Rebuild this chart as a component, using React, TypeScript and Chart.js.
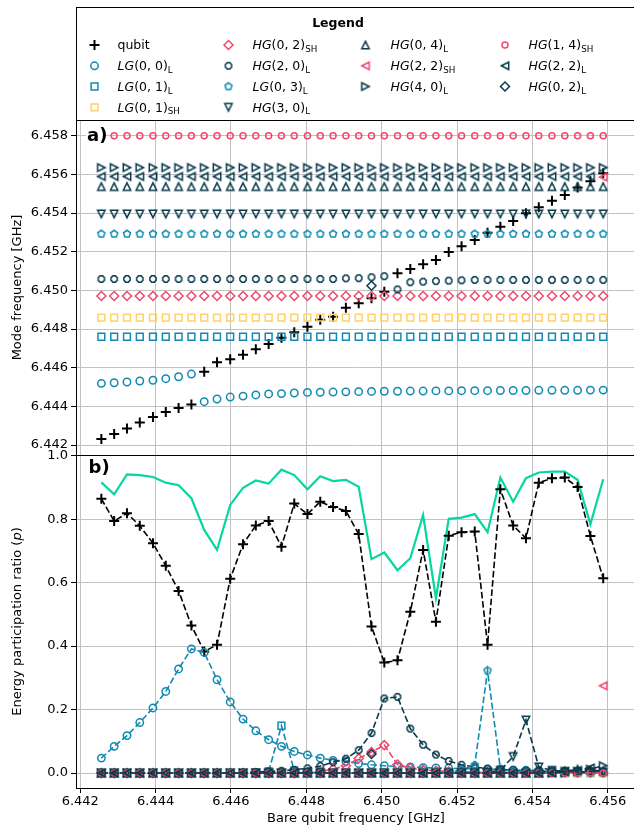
import React, { useEffect, useRef } from 'react';
import { Chart, registerables } from 'chart.js';
import { drawPoint } from 'chart.js/helpers';

Chart.register(...registerables);

// ---------------- data ----------------
const X_GHZ = [
  6.44256, 6.4429, 6.44324, 6.44358, 6.44393, 6.44427, 6.44461, 6.44495, 6.44529, 6.44563,
  6.44598, 6.44632, 6.44666, 6.447, 6.44734, 6.44768, 6.44803, 6.44837, 6.44871, 6.44905,
  6.44939, 6.44973, 6.45007, 6.45042, 6.45076, 6.4511, 6.45144, 6.45178, 6.45212, 6.45247,
  6.45281, 6.45315, 6.45349, 6.45383, 6.45417, 6.45452, 6.45486, 6.4552, 6.45554, 6.45588,
];

// panel a: mode frequencies [GHz]
const FREQ_QUBIT = [
  6.44231, 6.44257, 6.44286, 6.44316, 6.44345, 6.44371, 6.44391, 6.44409, 6.44579, 6.44628,
  6.44643, 6.44667, 6.44695, 6.44722, 6.44755, 6.44783, 6.44812, 6.44848, 6.44864, 6.4491,
  6.44933, 6.44959, 6.44993, 6.45088, 6.4511, 6.45135, 6.45157, 6.45198, 6.45228, 6.4526,
  6.45298, 6.45329, 6.45359, 6.45399, 6.4543, 6.45464, 6.45493, 6.45532, 6.45564, 6.45606,
];
const FREQ_LG00_L = [
  6.44519, 6.44522, 6.44526, 6.44531, 6.44535, 6.44543, 6.44553, 6.44567, 6.44424, 6.44438,
  6.44448, 6.44453, 6.44459, 6.44464, 6.44466, 6.44469, 6.44472, 6.44473, 6.44474, 6.44475,
  6.44476, 6.44477, 6.44478, 6.44478, 6.44479, 6.44479, 6.4448, 6.4448, 6.44481, 6.44481,
  6.44481, 6.44482, 6.44482, 6.44482, 6.44483, 6.44483, 6.44483, 6.44483, 6.44484, 6.44484,
];
const FREQ_LG01_L = [
  6.4476, 6.4476, 6.4476, 6.4476, 6.4476, 6.4476, 6.4476, 6.4476, 6.4476, 6.4476,
  6.4476, 6.4476, 6.4476, 6.4476, 6.4476, 6.4476, 6.4476, 6.4476, 6.4476, 6.4476,
  6.4476, 6.4476, 6.4476, 6.4476, 6.4476, 6.4476, 6.4476, 6.4476, 6.4476, 6.4476,
  6.4476, 6.4476, 6.4476, 6.4476, 6.4476, 6.4476, 6.4476, 6.4476, 6.4476, 6.4476,
];
const FREQ_LG01_SH = [
  6.44859, 6.44859, 6.44859, 6.44859, 6.44859, 6.44859, 6.44859, 6.44859, 6.44859, 6.44859,
  6.44859, 6.44859, 6.44859, 6.44859, 6.44859, 6.44859, 6.44859, 6.44859, 6.44859, 6.44859,
  6.44859, 6.44859, 6.44859, 6.44859, 6.44859, 6.44859, 6.44859, 6.44859, 6.44859, 6.44859,
  6.44859, 6.44859, 6.44859, 6.44859, 6.44859, 6.44859, 6.44859, 6.44859, 6.44859, 6.44859,
];
const FREQ_HG02_SH = [
  6.44971, 6.44971, 6.44971, 6.44971, 6.44971, 6.44971, 6.44971, 6.44971, 6.44971, 6.44971,
  6.44971, 6.44971, 6.44971, 6.44971, 6.44971, 6.44971, 6.44971, 6.44971, 6.44971, 6.44971,
  6.44971, 6.44971, 6.44971, 6.44971, 6.44971, 6.44971, 6.44971, 6.44971, 6.44971, 6.44971,
  6.44971, 6.44971, 6.44971, 6.44971, 6.44971, 6.44971, 6.44971, 6.44971, 6.44971, 6.44971,
];
const FREQ_HG20_L = [
  6.45059, 6.45059, 6.45059, 6.45059, 6.45059, 6.45059, 6.45059, 6.45059, 6.45059, 6.45059,
  6.45059, 6.45059, 6.45059, 6.45059, 6.45059, 6.45059, 6.45059, 6.45059, 6.45059, 6.45062,
  6.45063, 6.45068, 6.45073, 6.45005, 6.45042, 6.45045, 6.45048, 6.4505, 6.45052, 6.45054,
  6.45054, 6.45054, 6.45054, 6.45054, 6.45054, 6.45054, 6.45054, 6.45054, 6.45054, 6.45054,
];
const FREQ_LG03_L = [
  6.45292, 6.45292, 6.45292, 6.45292, 6.45292, 6.45292, 6.45292, 6.45292, 6.45292, 6.45292,
  6.45292, 6.45292, 6.45292, 6.45292, 6.45292, 6.45292, 6.45292, 6.45292, 6.45292, 6.45292,
  6.45292, 6.45292, 6.45292, 6.45292, 6.45292, 6.45292, 6.45292, 6.45292, 6.45292, 6.45292,
  6.45292, 6.45292, 6.45292, 6.45292, 6.45292, 6.45292, 6.45292, 6.45292, 6.45292, 6.45292,
];
const FREQ_HG30_L = [
  6.45395, 6.45395, 6.45395, 6.45395, 6.45395, 6.45395, 6.45395, 6.45395, 6.45395, 6.45395,
  6.45395, 6.45395, 6.45395, 6.45395, 6.45395, 6.45395, 6.45395, 6.45395, 6.45395, 6.45395,
  6.45395, 6.45395, 6.45395, 6.45395, 6.45395, 6.45395, 6.45395, 6.45395, 6.45395, 6.45395,
  6.45395, 6.45395, 6.45395, 6.45395, 6.45395, 6.45395, 6.45395, 6.45395, 6.45395, 6.45395,
];
const FREQ_HG04_L = [
  6.45537, 6.45537, 6.45537, 6.45537, 6.45537, 6.45537, 6.45537, 6.45537, 6.45537, 6.45537,
  6.45537, 6.45537, 6.45537, 6.45537, 6.45537, 6.45537, 6.45537, 6.45537, 6.45537, 6.45537,
  6.45537, 6.45537, 6.45537, 6.45537, 6.45537, 6.45537, 6.45537, 6.45537, 6.45537, 6.45537,
  6.45537, 6.45537, 6.45537, 6.45537, 6.45537, 6.45537, 6.45537, 6.45537, 6.45537, 6.45537,
];
const FREQ_HG22_SH = [
  null, null, null, null, null, null, null, null, null, null,
  null, null, null, null, null, null, null, null, null, null,
  null, null, null, null, null, null, null, null, null, null,
  null, null, null, null, null, null, null, null, null, 6.45586,
];
const FREQ_HG40_L = [
  6.45635, 6.45635, 6.45635, 6.45635, 6.45635, 6.45635, 6.45635, 6.45635, 6.45635, 6.45635,
  6.45635, 6.45635, 6.45635, 6.45635, 6.45635, 6.45635, 6.45635, 6.45635, 6.45635, 6.45635,
  6.45635, 6.45635, 6.45635, 6.45635, 6.45635, 6.45635, 6.45635, 6.45635, 6.45635, 6.45635,
  6.45635, 6.45635, 6.45635, 6.45635, 6.45635, 6.45635, 6.45635, 6.45635, 6.45635, 6.45635,
];
const FREQ_HG14_SH = [
  6.458, 6.458, 6.458, 6.458, 6.458, 6.458, 6.458, 6.458, 6.458, 6.458,
  6.458, 6.458, 6.458, 6.458, 6.458, 6.458, 6.458, 6.458, 6.458, 6.458,
  6.458, 6.458, 6.458, 6.458, 6.458, 6.458, 6.458, 6.458, 6.458, 6.458,
  6.458, 6.458, 6.458, 6.458, 6.458, 6.458, 6.458, 6.458, 6.458, 6.458,
];
const FREQ_HG22_L = [
  6.45589, 6.45589, 6.45589, 6.45589, 6.45589, 6.45589, 6.45589, 6.45589, 6.45589, 6.45589,
  6.45589, 6.45589, 6.45589, 6.45589, 6.45589, 6.45589, 6.45589, 6.45589, 6.45589, 6.45589,
  6.45589, 6.45589, 6.45589, 6.45589, 6.45589, 6.45589, 6.45589, 6.45589, 6.45589, 6.45589,
  6.45589, 6.45589, 6.45589, 6.45589, 6.45589, 6.45589, 6.45589, 6.45589, 6.45589, null,
];
const FREQ_HG02_L = [
  null, null, null, null, null, null, null, null, null, null,
  null, null, null, null, null, null, null, null, null, null,
  null, 6.45024, null, null, null, null, null, null, null, null,
  null, null, null, null, null, null, null, null, null, null,
];

// panel b: energy participation ratios
const EPR_TOTAL = [
  0.916, 0.878, 0.941, 0.939, 0.933, 0.915, 0.907, 0.866, 0.766, 0.703,
  0.845, 0.899, 0.922, 0.912, 0.956, 0.939, 0.894, 0.935, 0.92, 0.924,
  0.902, 0.674, 0.695, 0.639, 0.677, 0.813, 0.551, 0.801, 0.805, 0.816,
  0.759, 0.931, 0.855, 0.929, 0.947, 0.95, 0.95, 0.924, 0.784, 0.926,
];
const EPR_QUBIT = [
  0.864, 0.794, 0.819, 0.779, 0.724, 0.653, 0.574, 0.465, 0.383, 0.404,
  0.612, 0.721, 0.78, 0.794, 0.713, 0.849, 0.816, 0.855, 0.838, 0.826,
  0.753, 0.462, 0.348, 0.355, 0.508, 0.703, 0.477, 0.748, 0.759, 0.761,
  0.404, 0.894, 0.78, 0.74, 0.915, 0.929, 0.931, 0.901, 0.747, 0.614,
];
const EPR_LG00_L = [
  0.047, 0.084, 0.118, 0.159, 0.205, 0.257, 0.328, 0.391, 0.38, 0.294,
  0.224, 0.17, 0.133, 0.105, 0.084, 0.068, 0.057, 0.047, 0.04, 0.037,
  0.03, 0.026, 0.023, 0.021, 0.019, 0.017, 0.016, 0.015, 0.014, 0.013,
  0.012, 0.011, 0.01, 0.009, 0.008, 0.007, 0.006, 0.005, 0.005, 0.004,
];
const EPR_LG01_L = [
  0, 0, 0, 0, 0, 0, 0, 0, 0, 0,
  0, 0, 0.002, 0.005, 0.149, 0.008, 0.003, 0, 0, 0,
  0, 0, 0, 0, 0, 0, 0, 0, 0, 0,
  0, 0, 0, 0, 0, 0, 0, 0, 0, 0,
];
const EPR_LG01_SH = [
  0, 0, 0, 0, 0, 0, 0, 0, 0, 0,
  0, 0, 0, 0, 0, 0, 0, 0, 0, 0,
  0, 0, 0, 0, 0, 0, 0, 0, 0, 0,
  0, 0, 0, 0, 0, 0, 0, 0, 0, 0,
];
const EPR_HG02_SH = [
  0, 0, 0, 0, 0, 0, 0, 0, 0, 0,
  0, 0, 0, 0, 0, 0, 0.002, 0.005, 0.012, 0.023,
  0.046, 0.066, 0.088, 0.027, 0.016, 0.01, 0.007, 0.005, 0.004, 0.003,
  0.002, 0.002, 0.002, 0.002, 0.002, 0.002, 0.002, 0.002, 0.002, 0.002,
];
const EPR_HG20_L = [
  0, 0, 0, 0, 0, 0, 0, 0, 0, 0,
  0, 0.001, 0.003, 0.005, 0.007, 0.01, 0.015, 0.022, 0.034, 0.045,
  0.072, 0.126, 0.235, 0.24, 0.14, 0.089, 0.058, 0.038, 0.026, 0.019,
  0.014, 0.011, 0.009, 0.007, 0.006, 0.005, 0.004, 0.004, 0.003, 0.003,
];
const EPR_LG03_L = [
  0, 0, 0, 0, 0, 0, 0, 0, 0, 0,
  0, 0, 0, 0, 0, 0, 0, 0, 0, 0,
  0, 0, 0, 0, 0, 0, 0, 0.002, 0.01, 0.025,
  0.323, 0.014, 0.006, 0.004, 0.003, 0.002, 0.002, 0.001, 0.001, 0.001,
];
const EPR_HG30_L = [
  0, 0, 0, 0, 0, 0, 0, 0, 0, 0,
  0, 0, 0, 0, 0, 0, 0, 0, 0, 0,
  0, 0, 0, 0, 0, 0, 0, 0, 0, 0,
  0.003, 0.008, 0.052, 0.167, 0.019, 0.008, 0.005, 0.004, 0.003, 0.003,
];
const EPR_HG04_L = [
  0, 0, 0, 0, 0, 0, 0, 0, 0, 0,
  0, 0, 0, 0, 0, 0, 0, 0, 0, 0,
  0, 0, 0, 0, 0, 0, 0, 0, 0, 0,
  0, 0, 0, 0, 0, 0.003, 0.006, 0.012, 0.01, 0.006,
];
const EPR_HG22_SH = [
  null, null, null, null, null, null, null, null, null, null,
  null, null, null, null, null, null, null, null, null, null,
  null, null, null, null, null, null, null, null, null, null,
  null, null, null, null, null, null, null, null, null, 0.275,
];
const EPR_HG40_L = [
  0, 0, 0, 0, 0, 0, 0, 0, 0, 0,
  0, 0, 0, 0, 0, 0, 0, 0, 0, 0,
  0, 0, 0, 0, 0, 0, 0, 0, 0, 0,
  0, 0, 0, 0, 0, 0, 0, 0.005, 0.012, 0.023,
];
const EPR_HG14_SH = [
  0, 0, 0, 0, 0, 0, 0, 0, 0, 0,
  0, 0, 0, 0, 0, 0, 0, 0, 0, 0,
  0, 0, 0, 0, 0, 0, 0, 0, 0, 0,
  0, 0, 0, 0, 0, 0, 0, 0, 0, 0,
];
const EPR_HG22_L = [
  0, 0, 0, 0, 0, 0, 0, 0, 0, 0,
  0, 0, 0, 0, 0, 0, 0, 0, 0, 0,
  0, 0, 0, 0, 0, 0, 0, 0, 0, 0,
  0, 0, 0, 0, 0, 0, 0.004, 0.008, 0.016, null,
];
const EPR_HG02_L = [
  null, null, null, null, null, null, null, null, null, null,
  null, null, null, null, null, null, null, null, null, null,
  null, 0.06, null, null, null, null, null, null, null, null,
  null, null, null, null, null, null, null, null, null, null,
];

const X_TICKS = [6.442, 6.444, 6.446, 6.448, 6.45, 6.452, 6.454, 6.456];
const FREQ_TICKS = [6.442, 6.444, 6.446, 6.448, 6.45, 6.452, 6.454, 6.456, 6.458];
const EPR_TICKS = [0, 0.2, 0.4, 0.6, 0.8, 1.0];

const MODE_LABELS = [
  'qubit', 'LG(0,0)_L', 'LG(0,1)_L', 'LG(0,1)_SH', 'HG(0,2)_SH', 'HG(2,0)_L', 'LG(0,3)_L',
  'HG(3,0)_L', 'HG(0,4)_L', 'HG(2,2)_SH', 'HG(4,0)_L', 'HG(1,4)_SH', 'HG(2,2)_L', 'HG(0,2)_L',
];
const FREQ_SERIES = [
  FREQ_QUBIT, FREQ_LG00_L, FREQ_LG01_L, FREQ_LG01_SH, FREQ_HG02_SH, FREQ_HG20_L, FREQ_LG03_L,
  FREQ_HG30_L, FREQ_HG04_L, FREQ_HG22_SH, FREQ_HG40_L, FREQ_HG14_SH, FREQ_HG22_L, FREQ_HG02_L,
];
const EPR_SERIES = [
  EPR_QUBIT, EPR_LG00_L, EPR_LG01_L, EPR_LG01_SH, EPR_HG02_SH, EPR_HG20_L, EPR_LG03_L,
  EPR_HG30_L, EPR_HG04_L, EPR_HG22_SH, EPR_HG40_L, EPR_HG14_SH, EPR_HG22_L, EPR_HG02_L,
];

// ---------------- styles ----------------
const PINK = '#EF476F';
const YELLOW = '#FFD166';
const GREEN = '#06D6A0';
const BLUE = '#118AB2';
const DARK = '#073B4C';
const GRID = '#c2c2c2';
const FONT = '"DejaVu Sans", "Liberation Sans", sans-serif';

const MARKER_KIND = [
  'plus', 'circle', 'square', 'square', 'diamond', 'octagon', 'pentagon',
  'triDown', 'triUp', 'triLeft', 'triRight', 'circle', 'triLeft', 'diamond',
];
const MARKER_COLOR = [
  '#000000', BLUE, BLUE, YELLOW, PINK, DARK, BLUE, DARK, DARK, PINK, DARK, PINK, DARK, DARK,
];
const MARKER_SIZE = [5, 3.7, 3.4, 3.4, 4.5, 3.4, 3.7, 3.7, 3.7, 3.7, 3.7, 3.0, 3.7, 4.5];

const X_MIN = 6.441887;
const X_MAX = 6.456936;
const FA_MIN = 6.441483;
const FA_MAX = 6.458812;
const EB_MIN = -0.0472;
const EB_MAX = 1.0022;

function shapePath(g: CanvasRenderingContext2D, kind: string, s: number) {
  const poly = (pts: number[][]) => {
    g.moveTo(pts[0][0], pts[0][1]);
    for (let i = 1; i < pts.length; i++) g.lineTo(pts[i][0], pts[i][1]);
    g.closePath();
  };
  const regular = (n: number, start: number) => {
    const pts: number[][] = [];
    for (let k = 0; k < n; k++) {
      const a = ((start + (360 / n) * k) * Math.PI) / 180;
      pts.push([s * Math.cos(a), s * Math.sin(a)]);
    }
    poly(pts);
  };
  g.beginPath();
  if (kind === 'triUp') poly([[0, -s], [s, s], [-s, s]]);
  else if (kind === 'triDown') poly([[0, s], [s, -s], [-s, -s]]);
  else if (kind === 'triLeft') poly([[-s, 0], [s, -s], [s, s]]);
  else if (kind === 'triRight') poly([[s, 0], [-s, -s], [-s, s]]);
  else if (kind === 'pentagon') regular(5, -90);
  else if (kind === 'octagon') regular(8, 22.5);
}

function makeMarkerImage(kind: string, color: string, s: number, lw: number) {
  const c = document.createElement('canvas');
  c.width = 16;
  c.height = 16;
  const g = c.getContext('2d') as CanvasRenderingContext2D;
  g.translate(8, 8);
  g.strokeStyle = color;
  g.lineWidth = lw;
  g.lineJoin = 'miter';
  shapePath(g, kind, s);
  g.stroke();
  return c;
}

function buildPointStyle(k: number) {
  const kind = MARKER_KIND[k];
  const s = MARKER_SIZE[k];
  const color = MARKER_COLOR[k];
  if (kind === 'plus') return { pointStyle: 'cross' as any, radius: s, borderWidth: 2 };
  if (kind === 'circle') return { pointStyle: 'circle' as any, radius: s, borderWidth: 1.5 };
  if (kind === 'square') return { pointStyle: 'rect' as any, radius: s / Math.SQRT1_2, borderWidth: 1.5 };
  if (kind === 'diamond') return { pointStyle: 'rectRot' as any, radius: s, borderWidth: 1.5 };
  return { pointStyle: makeMarkerImage(kind, color, s, 1.5) as any, radius: s, borderWidth: 1.5 };
}

function drawMathLabel(ctx: CanvasRenderingContext2D, label: string, x: number, yMid: number) {
  const size = 12.5;
  const y = yMid + 4.4;
  ctx.textAlign = 'left';
  ctx.textBaseline = 'alphabetic';
  ctx.fillStyle = '#000';
  if (label.indexOf('_') < 0) {
    ctx.font = `${size}px ${FONT}`;
    ctx.fillText(label, x, y);
    return;
  }
  const [main, sub] = label.split('_');
  const m = /^([A-Za-z]+)(.*)$/.exec(main) as RegExpExecArray;
  const parts = [
    { t: m[1], f: `italic ${size}px ${FONT}`, dy: 0 },
    { t: m[2].replace(',', ', '), f: `${size}px ${FONT}`, dy: 0 },
    { t: sub, f: `${(size * 0.7).toFixed(2)}px ${FONT}`, dy: 2.6 },
  ];
  let cx = x;
  for (const p of parts) {
    ctx.font = p.f;
    ctx.fillText(p.t, cx, y + p.dy);
    cx += ctx.measureText(p.t).width;
  }
}

function drawRotatedParts(
  ctx: CanvasRenderingContext2D,
  parts: { t: string; f: string }[],
  cx: number,
  cy: number,
) {
  ctx.save();
  ctx.translate(cx, cy);
  ctx.rotate(-Math.PI / 2);
  ctx.textAlign = 'left';
  ctx.textBaseline = 'middle';
  ctx.fillStyle = '#000';
  let total = 0;
  for (const p of parts) {
    ctx.font = p.f;
    total += ctx.measureText(p.t).width;
  }
  let x = -total / 2;
  for (const p of parts) {
    ctx.font = p.f;
    ctx.fillText(p.t, x, 0);
    x += ctx.measureText(p.t).width;
  }
  ctx.restore();
}

const framePlugin = {
  id: 'frame',
  afterDatasetsDraw(chart: any) {
    const { left, top, right, bottom } = chart.chartArea;
    const ctx = chart.ctx as CanvasRenderingContext2D;
    ctx.save();
    ctx.strokeStyle = '#000';
    ctx.lineWidth = 1;
    ctx.strokeRect(Math.round(left) + 0.5, Math.round(top) + 0.5, right - left, Math.round(bottom) - Math.round(top));
    ctx.restore();
  },
};

export default function App() {
  const refA = useRef<HTMLCanvasElement>(null);
  const refB = useRef<HTMLCanvasElement>(null);

  useEffect(() => {
    const n = MODE_LABELS.length;
    const styles = MODE_LABELS.map((_, k) => buildPointStyle(k));
    const toPoints = (ys: (number | null)[]) =>
      X_GHZ.map((x, i) => ({ x, y: ys[i] })).filter((p) => p.y !== null && p.y !== undefined);

    const gridBase = { color: GRID, lineWidth: 1, tickColor: '#000', tickWidth: 1, tickLength: 5 };
    const tickFont = { family: FONT, size: 13 };

    const legendPlugin = {
      id: 'mplLegend',
      afterDraw(chart: any) {
        const ctx = chart.ctx as CanvasRenderingContext2D;
        ctx.save();
        ctx.strokeStyle = '#000';
        ctx.lineWidth = 1;
        ctx.strokeRect(76.5, 7.5, 700, 113);
        ctx.fillStyle = '#000';
        ctx.font = `bold 12.5px ${FONT}`;
        ctx.textAlign = 'center';
        ctx.textBaseline = 'middle';
        ctx.fillText('Legend', 338, 24);
        const colMarkerX = [94.5, 228.5, 365.5, 505];
        const colTextX = [117.5, 252.5, 390.5, 528.5];
        const rowY = [45, 65.8, 86.5, 107.3];
        const colSizes = [4, 4, 3, 3];
        let k = 0;
        for (let c = 0; c < 4; c++) {
          for (let r = 0; r < colSizes[c]; r++) {
            const st = styles[k];
            ctx.strokeStyle = MARKER_COLOR[k];
            ctx.fillStyle = 'rgba(0,0,0,0)';
            ctx.lineWidth = st.borderWidth;
            drawPoint(ctx, { pointStyle: st.pointStyle, rotation: 0, radius: st.radius, borderWidth: st.borderWidth } as any, colMarkerX[c], rowY[r]);
            drawMathLabel(ctx, MODE_LABELS[k], colTextX[c], rowY[r]);
            k++;
          }
        }
        // panel label a)
        ctx.fillStyle = '#fff';
        ctx.fillRect(86, 126, 18, 20);
        ctx.fillStyle = '#000';
        ctx.font = `bold 18px ${FONT}`;
        ctx.textAlign = 'left';
        ctx.textBaseline = 'middle';
        ctx.fillText('a)', 87, 136);
        // y title
        const ca = chart.chartArea;
        drawRotatedParts(ctx, [{ t: 'Mode frequency [GHz]', f: `13px ${FONT}` }], 18, (ca.top + ca.bottom) / 2);
        ctx.restore();
      },
    };

    const panelBPlugin = {
      id: 'panelB',
      afterDraw(chart: any) {
        const ctx = chart.ctx as CanvasRenderingContext2D;
        const ca = chart.chartArea;
        ctx.save();
        ctx.fillStyle = '#000';
        ctx.font = `bold 18px ${FONT}`;
        ctx.textAlign = 'left';
        ctx.textBaseline = 'middle';
        ctx.fillText('b)', 88.5, ca.top + 13);
        drawRotatedParts(
          ctx,
          [
            { t: 'Energy participation ratio (', f: `13px ${FONT}` },
            { t: 'p', f: `italic 13px ${FONT}` },
            { t: ')', f: `13px ${FONT}` },
          ],
          18,
          (ca.top + ca.bottom) / 2,
        );
        ctx.font = `13px ${FONT}`;
        ctx.textAlign = 'center';
        ctx.fillText('Bare qubit frequency [GHz]', 356, chart.height - 8);
        ctx.restore();
      },
    };

    const dsA = FREQ_SERIES.map((ys, k) => ({
      label: MODE_LABELS[k],
      data: toPoints(ys),
      showLine: false,
      pointStyle: styles[k].pointStyle,
      pointRadius: styles[k].radius,
      pointRotation: 0,
      pointBorderWidth: styles[k].borderWidth,
      pointBorderColor: MARKER_COLOR[k],
      pointBackgroundColor: 'rgba(0,0,0,0)',
      order: n - k,
    }));

    const dsB: any[] = [
      {
        label: 'total',
        data: toPoints(EPR_TOTAL),
        showLine: true,
        borderColor: GREEN,
        borderWidth: 2.2,
        pointRadius: 0,
        order: 100,
      },
      ...EPR_SERIES.map((ys, k) => ({
        label: MODE_LABELS[k],
        data: toPoints(ys),
        showLine: true,
        borderColor: MARKER_COLOR[k],
        borderWidth: 1.6,
        borderDash: [6.5, 2.8],
        pointStyle: styles[k].pointStyle,
        pointRadius: styles[k].radius,
        pointRotation: 0,
        pointBorderWidth: styles[k].borderWidth,
        pointBorderColor: MARKER_COLOR[k],
        pointBackgroundColor: 'rgba(0,0,0,0)',
        order: n - k,
      })),
    ];

    const chartA = new Chart(refA.current as HTMLCanvasElement, {
      type: 'scatter',
      data: { datasets: dsA as any },
      options: {
        animation: false,
        responsive: false,
        events: [],
        layout: { padding: { left: 0, right: 0, top: 120, bottom: 15 } },
        plugins: { legend: { display: false }, tooltip: { enabled: false } },
        scales: {
          x: {
            type: 'linear',
            min: X_MIN,
            max: X_MAX,
            afterBuildTicks: (s: any) => {
              s.ticks = X_TICKS.map((v) => ({ value: v }));
            },
            afterFit: (s: any) => {
              s.height = 0;
            },
            ticks: { display: false },
            grid: { ...gridBase, drawTicks: false },
            border: { display: false },
          },
          y: {
            type: 'linear',
            min: FA_MIN,
            max: FA_MAX,
            afterBuildTicks: (s: any) => {
              s.ticks = FREQ_TICKS.map((v) => ({ value: v }));
            },
            afterFit: (s: any) => {
              s.width = 76;
            },
            ticks: {
              font: tickFont,
              color: '#000',
              padding: 3,
              autoSkip: false,
              callback: (v: any) => Number(v).toFixed(3),
            },
            grid: gridBase,
            border: { display: false },
          },
        },
      } as any,
      plugins: [framePlugin, legendPlugin],
    });

    const chartB = new Chart(refB.current as HTMLCanvasElement, {
      type: 'scatter',
      data: { datasets: dsB },
      options: {
        animation: false,
        responsive: false,
        events: [],
        layout: { padding: { left: 0, right: 0, top: 12, bottom: 0 } },
        plugins: { legend: { display: false }, tooltip: { enabled: false } },
        scales: {
          x: {
            type: 'linear',
            min: X_MIN,
            max: X_MAX,
            afterBuildTicks: (s: any) => {
              s.ticks = X_TICKS.map((v) => ({ value: v }));
            },
            afterFit: (s: any) => {
              s.height = 39;
            },
            ticks: {
              font: tickFont,
              color: '#000',
              padding: 1,
              autoSkip: false,
              maxRotation: 0,
              callback: (v: any) => Number(v).toFixed(3),
            },
            grid: gridBase,
            border: { display: false },
          },
          y: {
            type: 'linear',
            min: EB_MIN,
            max: EB_MAX,
            afterBuildTicks: (s: any) => {
              s.ticks = EPR_TICKS.map((v) => ({ value: v }));
            },
            afterFit: (s: any) => {
              s.width = 76;
            },
            ticks: {
              font: tickFont,
              color: '#000',
              padding: 3,
              autoSkip: false,
              callback: (v: any) => Number(v).toFixed(1),
            },
            grid: gridBase,
            border: { display: false },
          },
        },
      } as any,
      plugins: [framePlugin, panelBPlugin],
    });

    return () => {
      chartA.destroy();
      chartB.destroy();
    };
  }, []);

  return (
    <div
      style={{
        position: 'absolute',
        left: 0,
        top: 0,
        width: 634,
        height: 827,
        overflow: 'hidden',
        background: '#fff',
      }}
    >
      <canvas ref={refA} width={650} height={470} style={{ position: 'absolute', left: 0, top: 0 }} />
      <canvas ref={refB} width={650} height={384} style={{ position: 'absolute', left: 0, top: 443 }} />
    </div>
  );
}
